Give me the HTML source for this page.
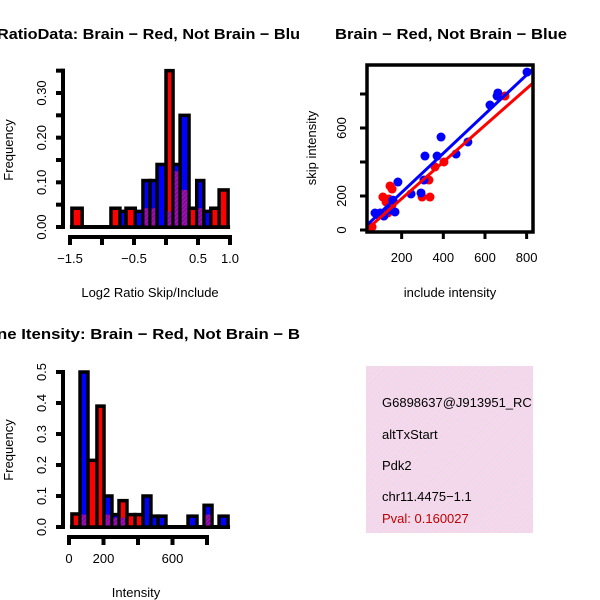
<!DOCTYPE html>
<html><head><meta charset="utf-8"><style>
body{margin:0;background:#fff;}
svg{display:block;font-family:"Liberation Sans",sans-serif;}
</style></head><body>
<svg id="svg" width="600" height="600" viewBox="0 0 600 600" xmlns="http://www.w3.org/2000/svg">
<defs>
<pattern id="hatch" width="4" height="4" patternUnits="userSpaceOnUse" patternTransform="rotate(45)">
<rect width="4" height="4" fill="#f7d6f0"/><rect width="1.2" height="4" fill="#e9dde0"/>
</pattern>
<pattern id="purp" width="3" height="3" patternUnits="userSpaceOnUse" patternTransform="rotate(45)">
<rect width="3" height="3" fill="#9a10b0"/><rect width="1" height="3" fill="#7a0890"/>
</pattern>
<clipPath id="clipTR"><rect x="367" y="65" width="166" height="167"/></clipPath>
</defs>
<g id="p1"></g>
<g id="p2"></g>
<g id="p3"></g>
<g>
<rect x="366" y="366" width="167" height="167" fill="url(#hatch)"/>
<svg x="366" y="366" width="167" height="167" overflow="hidden">
<text x="16" y="41" font-size="13">G6898637@J913951_RC</text>
<text x="16" y="73" font-size="13">altTxStart</text>
<text x="16" y="104" font-size="13">Pdk2</text>
<text x="16" y="135" font-size="13">chr11.4475−1.1</text>
<text x="16" y="157" font-size="13" fill="#c00000">Pval: 0.160027</text>
</svg>
</g>
</svg>
<script>
// Panel 1 data: log2 ratio histogram
const ratioBinLeft  = [-1.47,-0.86,-0.72,-0.625,-0.48,-0.36,-0.25,-0.14,0.0,0.11,0.22,0.36,0.48,0.59,0.70,0.83];
const ratioBinRight = [-1.31,-0.72,-0.625,-0.48,-0.36,-0.25,-0.14,0.0,0.11,0.22,0.36,0.48,0.59,0.70,0.83,0.97];
const ratioRed  = [0.042,0.042,0,0.042,0,0.042,0.042,0,0.35,0.125,0.083,0.042,0.042,0,0.042,0.083];
const ratioBlue = [0,0,0.035,0,0.035,0.104,0.104,0.14,0.035,0.14,0.25,0,0.104,0.035,0,0];
const ratioYTicks = [0,0.05,0.10,0.15,0.20,0.25,0.30,0.35];
const ratioYLabels = ["0.00","","0.10","","0.20","","0.30",""];
const ratioXTicks = [-1.5,-1.0,-0.5,0,0.5,1.0];
const ratioXLabels = ["−1.5","","−0.5","","0.5","1.0"];
// Panel 2 data: scatter
const blueX = [802,662,658,624,518,461,389,370,312,307,182,245,293,168,96,72,115,139,86,158];
const blueY = [929,806,788,735,518,447,547,435,435,294,282,212,218,106,100,100,82,118,88,176];
const redX = [696,403,360,331,298,336,144,154,110,125,139,154,134,58];
const redY = [788,400,371,294,194,194,259,241,194,165,182,147,100,18];
const fitIntercept = [-10,-32];   // blue, red
const fitSlope = [1.153,1.08];
const scXTicks = [200,400,600,800];
const scYTicks = [0,200,400,600,800];
const scYLabels = ["0","200","","600",""];
// Panel 3 data: intensity histogram
const intBinLeft  = [17,64,110,162,203,249,290,336,383,429,475,516,690,783,870];
const intBinRight = [64,110,162,203,249,290,336,383,429,475,516,562,742,829,922];
const intRed  = [0.042,0.04,0.215,0.39,0.04,0.03,0.085,0.04,0.04,0,0,0,0,0.04,0];
const intBlue = [0,0.5,0,0,0.1,0.04,0.03,0,0,0.1,0.035,0.035,0.035,0.07,0.035];
const intYTicks = [0,0.1,0.2,0.3,0.4,0.5];
const intYLabels = ["0.0","0.1","0.2","0.3","0.4","0.5"];
const intXTicks = [0,200,400,600,800];
const intXLabels = ["0","200","","600",""];

const NS="http://www.w3.org/2000/svg";
function mk(parent,tag,attrs,text){const e=document.createElementNS(NS,tag);for(const k in attrs)e.setAttribute(k,attrs[k]);if(text!==undefined)e.textContent=text;parent.appendChild(e);return e;}

function histPanel(g,o,L,R,red,blue,yT,yL,xT,xL,title,xlab){
  const sx=v=>o.x0+(v-o.xmin)*o.xs, sy=v=>o.y0-v*o.ys;
  const t=mk(g,'text',{x:-3,y:o.ty,'font-size':15,'font-weight':'bold',textLength:303,lengthAdjust:'spacingAndGlyphs'},title);
  
  
  const bl=mk(g,'line',{x1:sx(L[0])-2,x2:sx(R[R.length-1])+2,y1:o.y0,y2:o.y0,stroke:'#000','stroke-width':4});
  
  
  for(let i=0;i<L.length;i++){
    const hi=Math.max(red[i],blue[i]), lo=Math.min(red[i],blue[i]);
    const col=red[i]>=blue[i]?'#ff0000':'#0000ff';
    const x=sx(L[i]), w=sx(R[i])-sx(L[i]);
    if(hi>0){
      const r=mk(g,'rect',{x:x,y:sy(hi),width:w,height:o.y0-sy(hi),fill:col,stroke:'#000','stroke-width':3.5});
      
      
    }
    if(lo>0){
      const p=mk(g,'rect',{x:x+1.5,y:sy(lo),width:w-3,height:o.y0-sy(lo)-1.5,fill:'url(#purp)'});
      
      
    }
  }
  const ya=mk(g,'line',{x1:o.ax,x2:o.ax,y1:sy(yT[0])+2,y2:sy(yT[yT.length-1])-2,stroke:'#000','stroke-width':4});
  
  
  yT.forEach((v,i)=>{
    const tk=mk(g,'line',{x1:o.ax,x2:o.ax-7,y1:sy(v),y2:sy(v),stroke:'#000','stroke-width':4});
    
    
    if(yL[i]){const tl=mk(g,'text',{x:o.ax-17,y:sy(v),'font-size':13,'text-anchor':'middle',transform:`rotate(-90 ${o.ax-17} ${sy(v)})`},yL[i]);
      
      }
  });
  const xa=mk(g,'line',{x1:sx(xT[0])-2,x2:sx(xT[xT.length-1])+2,y1:o.ay,y2:o.ay,stroke:'#000','stroke-width':4});
  
  
  xT.forEach((v,i)=>{
    const tk=mk(g,'line',{x1:sx(v),x2:sx(v),y1:o.ay,y2:o.ay+8,stroke:'#000','stroke-width':4});
    
    
    if(xL[i]){const tl=mk(g,'text',{x:sx(v),y:o.ay+26,'font-size':13,'text-anchor':'middle'},xL[i]);
      
      }
  });
  const xl=mk(g,'text',{x:o.xlx,y:o.xly,'font-size':13,'text-anchor':'middle'},xlab);
  
  
  const yl=mk(g,'text',{x:13,y:o.yly,'font-size':13,'text-anchor':'middle',transform:`rotate(-90 13 ${o.yly})`},'Frequency');
  
  
}

histPanel(document.getElementById('p1'),
  {x0:70,xmin:-1.5,xs:64,y0:227,ys:446.7,ax:63,ay:237,ty:39,xlx:150,xly:297,yly:150},
  ratioBinLeft,ratioBinRight,ratioRed,ratioBlue,ratioYTicks,ratioYLabels,ratioXTicks,ratioXLabels,
  'RatioData: Brain − Red, Not Brain − Blu','Log2 Ratio Skip/Include');
histPanel(document.getElementById('p3'),
  {x0:69,xmin:0,xs:0.1725,y0:527,ys:310,ax:63,ay:537,ty:339,xlx:136,xly:597,yly:450},
  intBinLeft,intBinRight,intRed,intBlue,intYTicks,intYLabels,intXTicks,intXLabels,
  'ne Itensity: Brain − Red, Not Brain − B','Intensity');

(function(){
  const g=document.getElementById('p2');
  const sx=v=>360+v*0.2083, sy=v=>230-v*0.17;
  const t=mk(g,'text',{x:335,y:39,'font-size':15,'font-weight':'bold',textLength:232,lengthAdjust:'spacingAndGlyphs'},'Brain − Red, Not Brain − Blue');
  
  
  const pts=mk(g,'g',{'clip-path':'url(#clipTR)'});
  
  
  redX.forEach((x,i)=>{const c=mk(pts,'circle',{cx:sx(x),cy:sy(redY[i]),r:4.5,fill:'#ff0000'});
    
    });
  blueX.forEach((x,i)=>{const c=mk(pts,'circle',{cx:sx(x),cy:sy(blueY[i]),r:4.5,fill:'#0000ff'});
    
    });
  const cols=['#0000ff','#ff0000'];
  [1,0].forEach(k=>{
    const x1=20,x2=860;
    const l=mk(pts,'line',{x1:sx(x1),y1:sy(fitIntercept[k]+fitSlope[k]*x1),x2:sx(x2),y2:sy(fitIntercept[k]+fitSlope[k]*x2),stroke:cols[k],'stroke-width':3});
    
    
  });
  const box=mk(g,'rect',{x:367,y:65,width:166,height:167,fill:'none',stroke:'#000','stroke-width':3.5});
  
  
  scXTicks.forEach(v=>{
    const tk=mk(g,'line',{x1:sx(v),x2:sx(v),y1:232,y2:239,stroke:'#000','stroke-width':3});
    
    
    const tl=mk(g,'text',{x:sx(v),y:262,'font-size':13,'text-anchor':'middle'},String(v));
    
    
  });
  scYTicks.forEach((v,i)=>{
    const tk=mk(g,'line',{x1:367,x2:360,y1:sy(v),y2:sy(v),stroke:'#000','stroke-width':3});
    
    
    if(scYLabels[i]){const tl=mk(g,'text',{x:346,y:sy(v),'font-size':13,'text-anchor':'middle',transform:`rotate(-90 346 ${sy(v)})`},scYLabels[i]);
      
      }
  });
  const xl=mk(g,'text',{x:450,y:297,'font-size':13,'text-anchor':'middle'},'include intensity');
  
  
  const yl=mk(g,'text',{x:316,y:148,'font-size':13,'text-anchor':'middle',transform:'rotate(-90 316 148)'},'skip intensity');
  
  
})();
</script>
</body></html>
